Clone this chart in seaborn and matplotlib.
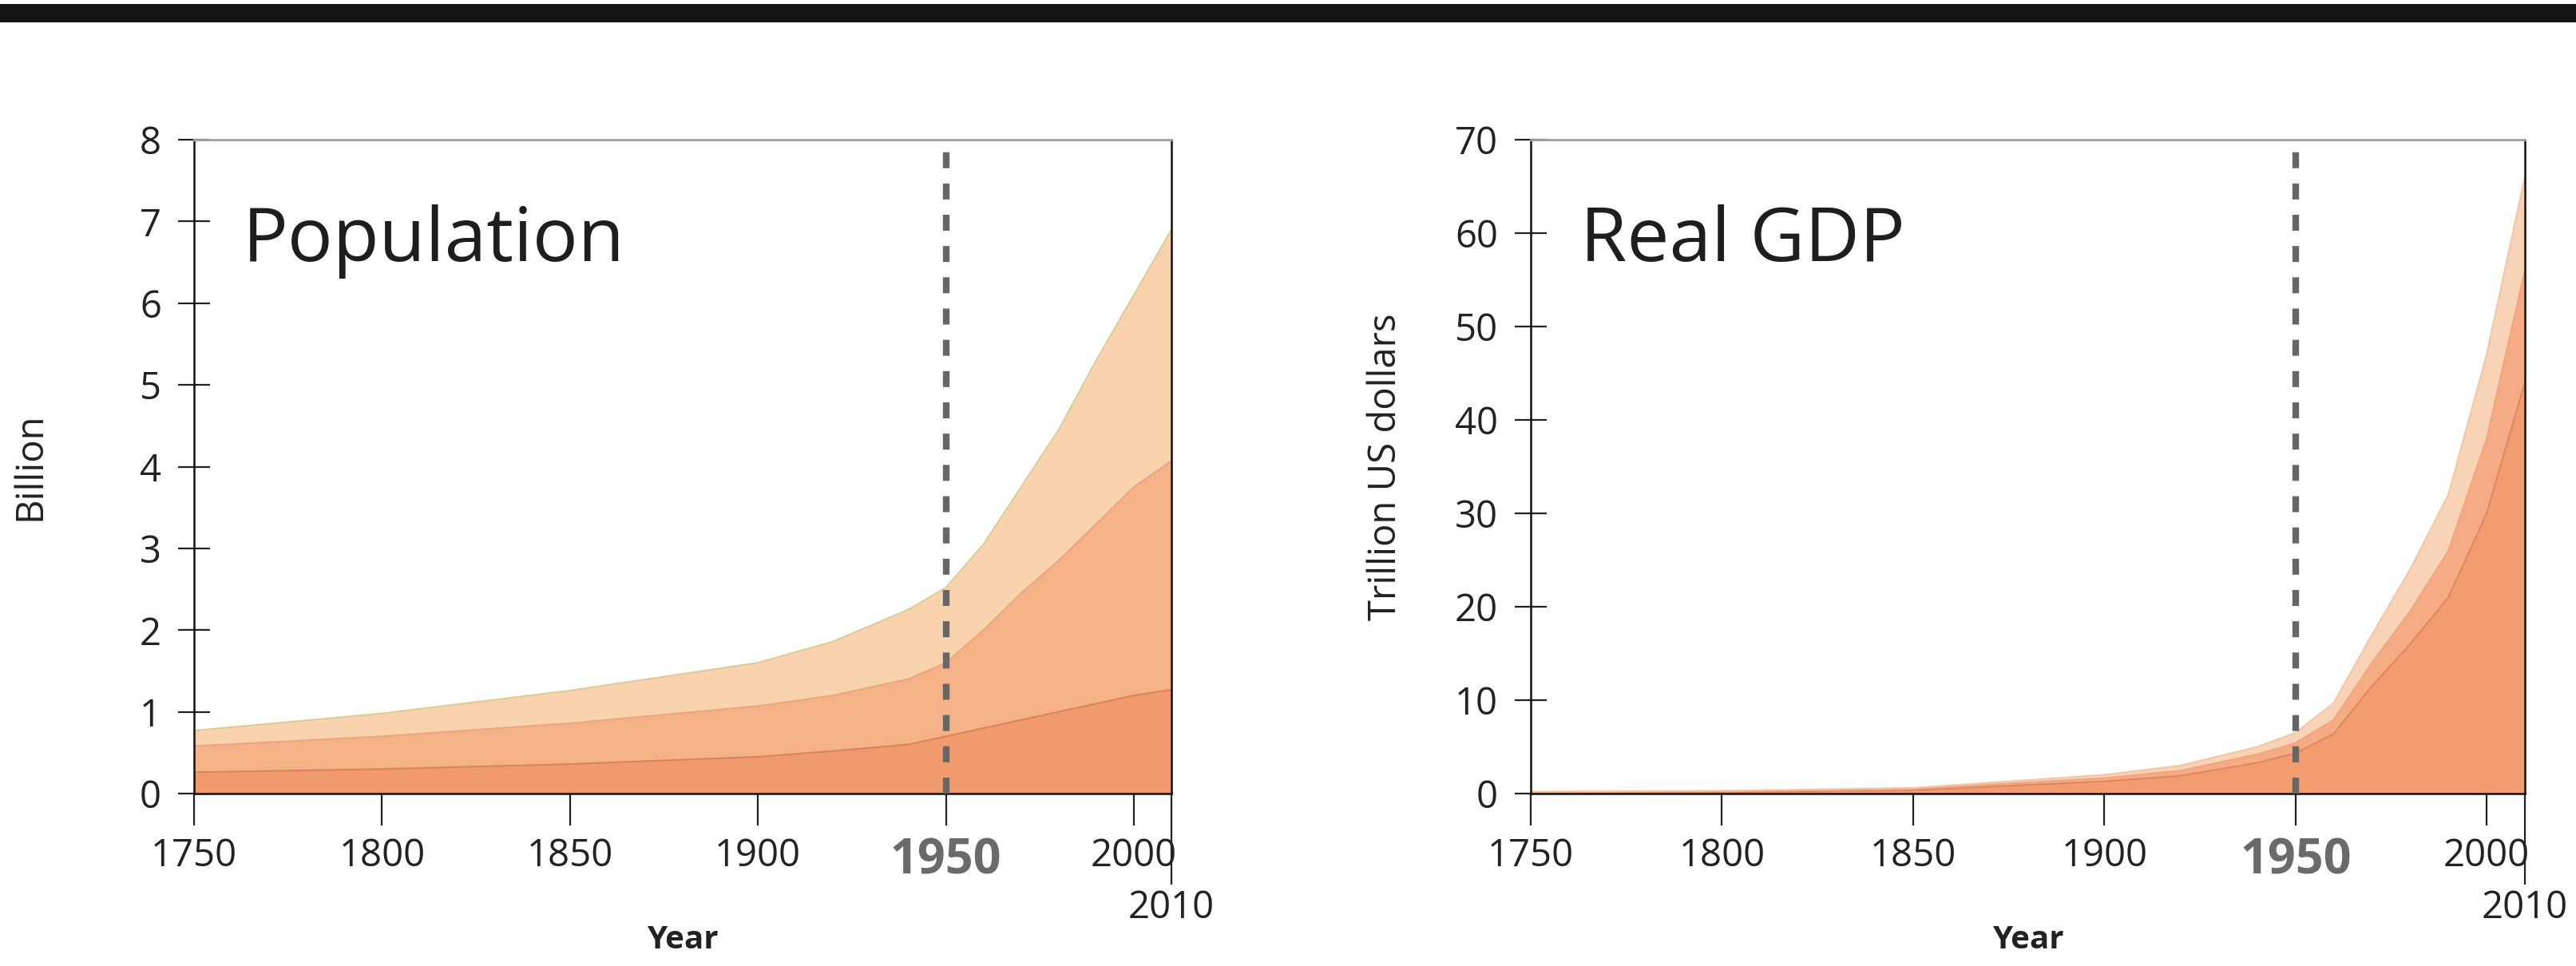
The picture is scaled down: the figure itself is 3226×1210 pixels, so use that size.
import numpy as np
import pandas as pd
import matplotlib
matplotlib.use("Agg")
import matplotlib.pyplot as plt
from matplotlib.patches import Rectangle
import seaborn as sns

# --- data ---
Years = [1750, 1800, 1850, 1900, 1920, 1940, 1950, 1960, 1970, 1980, 1990, 2000, 2010]

# population, billion (stacked: bottom, middle, top layer)
Pop_OECD = [0.26, 0.30, 0.36, 0.45, 0.52, 0.60, 0.70, 0.80, 0.90, 1.00, 1.10, 1.20, 1.27]
Pop_BRICS = [0.32, 0.40, 0.50, 0.62, 0.68, 0.80, 0.90, 1.20, 1.55, 1.85, 2.20, 2.55, 2.80]
Pop_Rest = [0.19, 0.28, 0.40, 0.53, 0.66, 0.85, 0.92, 1.05, 1.30, 1.60, 2.00, 2.35, 2.83]

# real GDP, trillion US dollars
Gdp_OECD = [0.10, 0.15, 0.35, 1.30, 1.90, 3.30, 4.30, 6.40, 11.5, 16.0, 21.0, 30.0, 44.0]
Gdp_BRICS = [0.06, 0.08, 0.13, 0.35, 0.55, 0.90, 1.10, 1.50, 2.50, 3.50, 5.00, 8.00, 12.0]
Gdp_Rest = [0.04, 0.07, 0.12, 0.35, 0.55, 0.80, 1.10, 1.80, 3.00, 4.50, 6.00, 9.00, 10.0]

XTicks = [1750, 1800, 1850, 1900, 1950, 2000]

sns.set_theme(style="ticks")
plt.rcParams['font.family'] = ['Open Sans', 'DejaVu Sans']

fig = plt.figure(figsize=(32.26, 12.10), dpi=100)
fig.patch.set_facecolor("white")

# black band at the top
fig.add_artist(Rectangle((0, 1 - 28 / 1210), 1, 23 / 1210, transform=fig.transFigure,
                         facecolor="#141414", edgecolor="none"))


def draw_panel(ax, df, cols, colors, edge_colors, ymax, yticks, ylabel, title, ylab_x):
    ax.stackplot(df["Year"], *[df[c] for c in cols], colors=colors, linewidth=0)
    cum = df[cols].cumsum(axis=1)
    for c, ec in zip(cols, edge_colors):
        sns.lineplot(x=df["Year"], y=cum[c], ax=ax, color=ec, lw=1.5, legend=False)
    ax.axvline(1950, color="#666666", ls=(0, (2.4, 2.3)), lw=6, zorder=5)

    ax.set_xlim(1750, 2010)
    ax.set_ylim(0, ymax)
    ax.set_xticks(XTicks)
    ax.set_xticklabels([str(y) for y in XTicks])
    ax.set_xticks([2010], minor=True)
    ax.set_xticklabels(["2010"], minor=True)
    ax.set_yticks(yticks)

    ax.tick_params(axis="y", direction="inout", length=29, width=1.6, pad=15,
                   labelsize=34, colors="#222222")
    ax.tick_params(axis="x", which="major", direction="out", length=29, width=1.6,
                   pad=10, labelsize=34, colors="#222222")
    ax.tick_params(axis="x", which="minor", direction="out", length=82, width=1.6,
                   pad=4, labelsize=34, colors="#222222")
    for lab in ax.get_xticklabels():
        if lab.get_text() == "1950":
            lab.set_fontweight("bold")
            lab.set_fontsize(44)
            lab.set_color("#6a6a6a")

    for s in ["left", "bottom", "right"]:
        ax.spines[s].set_color("#111111")
        ax.spines[s].set_linewidth(1.8)
    ax.spines["top"].set_color("#a0a0a0")
    ax.spines["top"].set_linewidth(2.0)

    ax.set_xlabel("Year", fontsize=29, fontweight="bold", color="#222222")
    ax.xaxis.set_label_coords(0.5, -0.2)
    ax.set_ylabel(ylabel, fontsize=34, color="#222222")
    ax.yaxis.set_label_coords(ylab_x, 0.5)
    ax.text(0.05, 0.815, title, transform=ax.transAxes, fontsize=68,
            color="#1e1e1e", va="baseline", ha="left")
    ax.set_facecolor("white")


pop_df = pd.DataFrame({"Year": Years, "OECD": Pop_OECD, "BRICS": Pop_BRICS, "Rest": Pop_Rest})
gdp_df = pd.DataFrame({"Year": Years, "OECD": Gdp_OECD, "BRICS": Gdp_BRICS, "Rest": Gdp_Rest})

ax1 = fig.add_axes([243 / 3226, 1 - 994 / 1210, 1224 / 3226, 819 / 1210])
draw_panel(ax1, pop_df, ["OECD", "BRICS", "Rest"],
           ["#F09A6E", "#F5B286", "#F9D3AE"], ["#D8835C", "#EBA57C", "#DCCB97"],
           8, range(0, 9), "Billion", "Population", -0.148)

ax2 = fig.add_axes([1917 / 3226, 1 - 994 / 1210, 1245 / 3226, 819 / 1210])
draw_panel(ax2, gdp_df, ["OECD", "BRICS", "Rest"],
           ["#F39C70", "#F5AC84", "#F9D3B6"], ["#DE865E", "#F0A47C", "#F4C4A4"],
           70, range(0, 71, 10), "Trillion US dollars", "Real GDP", -0.127)

fig.savefig("out.png", dpi=100, facecolor="white")
